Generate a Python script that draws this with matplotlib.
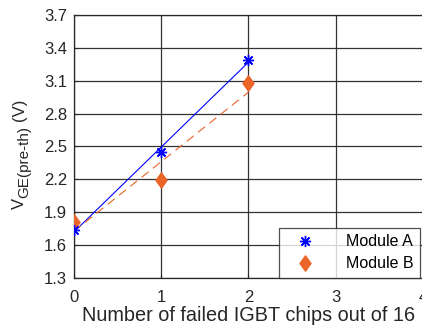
import matplotlib
matplotlib.use("Agg")
import matplotlib.pyplot as plt
import numpy as np
from matplotlib.path import Path

plt.rcParams['font.family'] = ['Liberation Sans', 'DejaVu Sans']

# data
failed_chips = [0, 1, 2]
module_a = [1.74, 2.45, 3.29]
module_b = [1.81, 2.19, 3.08]
xticks = [0, 1, 2, 3, 4]
yticks = [1.3, 1.6, 1.9, 2.2, 2.5, 2.8, 3.1, 3.4, 3.7]

blue = '#0000FF'
orange = '#EB6428'
dark = '#262626'

diamond = Path([(0, 1), (0.72, 0), (0, -1), (-0.72, 0), (0, 1)],
               [Path.MOVETO, Path.LINETO, Path.LINETO, Path.LINETO, Path.CLOSEPOLY])

fig = plt.figure(figsize=(4.22, 3.34), dpi=100)
ax = fig.add_axes([0.175, 0.168, 0.827, 0.787])

# linear fits through each module's points
x = np.array(failed_chips)
pa = np.polyfit(x, module_a, 1)
pb = np.polyfit(x, module_b, 1)
ax.plot(x, np.polyval(pa, x), color=blue, lw=0.8)
ax.plot(x, np.polyval(pb, x), color=orange, lw=0.8, dashes=(8, 5))

ax.plot(failed_chips, module_a, ls='none', marker=(8, 2, 0), ms=8, mew=1,
        color=blue, label='Module A', zorder=4)
ax.plot(failed_chips, module_b, ls='none', marker=diamond, ms=11,
        color=orange, label='Module B', zorder=3)

ax.set_xlim(0, 4)
ax.set_ylim(1.3, 3.7)
ax.set_xticks(xticks)
ax.set_yticks(yticks)
ax.grid(True, color='#333333', lw=0.9)
ax.tick_params(direction='in', length=3, labelsize=12, colors=dark)
ax.tick_params(axis='x', pad=8.5)
ax.tick_params(axis='y', pad=5)
for s in ax.spines.values():
    s.set_color(dark)
    s.set_linewidth(0.9)

ax.set_xlabel('Number of failed IGBT chips out of 16', fontsize=14.3,
              color=dark, labelpad=1)

# y label built from pieces so the subscript stays large
t1 = fig.text(0.028, 0.375, 'V', rotation=90, ha='left', va='bottom',
              fontsize=12, color=dark)
t2 = ax.annotate('GE(pre-th)', xy=(1, 1), xycoords=t1, xytext=(3, 0),
                 textcoords='offset points', rotation=90, ha='right',
                 va='bottom', fontsize=11, color=dark)
t3 = ax.annotate('(V)', xy=(1, 1), xycoords=(t1, t2), xytext=(0, 3),
                 textcoords='offset points', rotation=90, ha='right',
                 va='bottom', fontsize=12, color=dark)

leg = ax.legend(loc='lower left', bbox_to_anchor=(0.587, 0.0), fontsize=11.5,
                frameon=True, fancybox=False, edgecolor=dark,
                handlelength=2.5, handletextpad=1.3, borderpad=0.4,
                labelspacing=0.45, borderaxespad=0)
leg.get_frame().set_linewidth(0.9)

fig.savefig('out.png', dpi=100)
